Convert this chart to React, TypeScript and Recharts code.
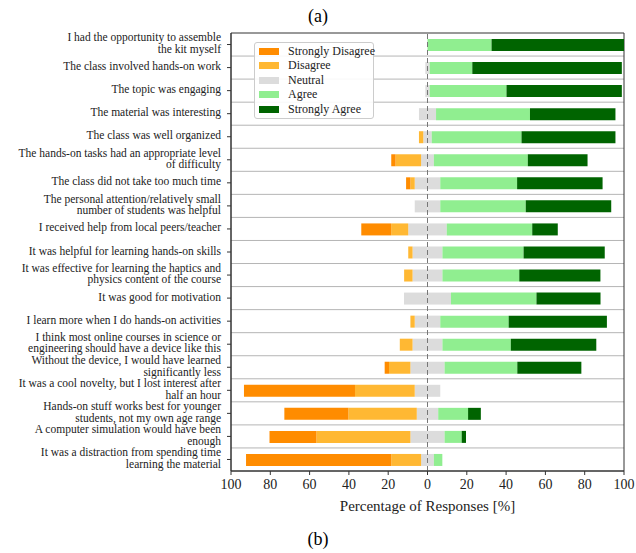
import {
  BarChart,
  Bar,
  XAxis,
  YAxis,
  CartesianGrid,
  ReferenceLine,
  ReferenceArea,
  Legend,
  Label,
} from 'recharts';

const SERIF = '"Liberation Serif", serif';

// Survey statements, top to bottom ("\n" = line break in the axis label)
const statements = [
  'I had the opportunity to assemble\nthe kit myself',
  'The class involved hands-on work',
  'The topic was engaging',
  'The material was interesting',
  'The class was well organized',
  'The hands-on tasks had an appropriate level\nof difficulty',
  'The class did not take too much time',
  'The personal attention/relatively small\nnumber of students was helpful',
  'I received help from local peers/teacher',
  'It was helpful for learning hands-on skills',
  'It was effective for learning the haptics and\nphysics content of the course',
  'It was good for motivation',
  'I learn more when I do hands-on activities',
  'I think most online courses in science or\nengineering should have a device like this',
  'Without the device, I would have learned\nsignificantly less',
  'It was a cool novelty, but I lost interest after\nhalf an hour',
  'Hands-on stuff works best for younger\nstudents, not my own age range',
  'A computer simulation would have been\nenough',
  'It was a distraction from spending time\nlearning the material',
];

// Percentage of responses per statement
const stronglyDisagree = [0, 0, 0, 0, 0, 2.2, 2.2, 0, 15.2, 0, 0, 0, 0, 0, 2.2, 56.5, 32.6, 23.9, 73.9];
const disagree = [0, 0, 0, 0, 2.2, 13.0, 2.2, 0, 8.7, 2.2, 4.3, 0, 2.2, 6.5, 10.9, 30.4, 34.8, 47.8, 15.2];
const neutral = [0, 2.2, 2.2, 8.7, 4.3, 6.5, 13.0, 13.0, 19.6, 15.2, 15.2, 23.9, 13.0, 15.2, 17.4, 13.0, 10.9, 17.4, 6.5];
const agree = [32.6, 21.7, 39.1, 47.8, 45.7, 47.8, 39.1, 43.5, 43.5, 41.3, 39.1, 43.5, 34.8, 34.8, 37.0, 0, 15.2, 8.7, 4.3];
const stronglyAgree = [67.4, 76.1, 58.7, 43.5, 47.8, 30.4, 43.5, 43.5, 13.0, 41.3, 41.3, 32.6, 50.0, 43.5, 32.6, 0, 6.5, 2.2, 0];

const xTicks = [-100, -80, -60, -40, -20, 0, 20, 40, 60, 80, 100];

const levels = [
  { name: 'Strongly Disagree', color: '#FF8C00' },
  { name: 'Disagree', color: '#FFB833' },
  { name: 'Neutral', color: '#DCDCDC' },
  { name: 'Agree', color: '#90EE90' },
  { name: 'Strongly Agree', color: '#006400' },
];

// Diverging layout: neutral is split around zero, disagreement goes negative
const data = statements.map((label, i) => ({
  label,
  neutralNeg: -neutral[i] / 2,
  disagree: -disagree[i],
  stronglyDisagree: -stronglyDisagree[i],
  neutralPos: neutral[i] / 2,
  agree: agree[i],
  stronglyAgree: stronglyAgree[i],
}));

const StatementTick = ({ x, y, payload }: any) => {
  const lines = String(payload.value).split('\n');
  const lineHeight = 11.5;
  const first = -1.5 - ((lines.length - 1) * lineHeight) / 2;
  return (
    <text
      x={x - 4}
      y={y}
      textAnchor="end"
      fontFamily={SERIF}
      fontSize={11.5}
      fill="#222"
    >
      {lines.map((line, i) => (
        <tspan key={i} x={x - 4} y={y + first + i * lineHeight} dominantBaseline="central">
          {line}
        </tspan>
      ))}
    </text>
  );
};

const LegendBox = () => (
  <div
    style={{
      background: 'rgba(255,255,255,0.9)',
      border: '1px solid #ccc',
      borderRadius: 3,
      padding: '1px 4px 1px 4px',
      fontFamily: SERIF,
      fontSize: 12,
      color: '#222',
      width: 110,
      whiteSpace: 'nowrap',
    }}
  >
    {levels.map((l) => (
      <div key={l.name} style={{ display: 'flex', alignItems: 'center', height: 14.5 }}>
        <span style={{ width: 20, height: 7, background: l.color, marginRight: 9, flex: 'none' }} />
        <span>{l.name}</span>
      </div>
    ))}
  </div>
);

const rowBoundaries = ({ offset }: any) => {
  const n = statements.length;
  const out: number[] = [];
  for (let i = 1; i < n; i++) out.push(offset.top + (offset.height * i) / n);
  return out;
};

export default function App() {
  return (
    <div style={{ position: 'absolute', left: 0, top: 0, width: 636, height: 553, background: '#fff' }}>
      <div
        style={{
          position: 'absolute',
          top: 6,
          width: 636,
          textAlign: 'center',
          fontFamily: SERIF,
          fontSize: 18,
        }}
      >
        (a)
      </div>
      <BarChart
        width={636}
        height={553}
        data={data}
        layout="vertical"
        stackOffset="sign"
        barSize={12}
        margin={{ top: 33, right: 12, bottom: 37, left: 0 }}
      >
        <CartesianGrid
          vertical={false}
          stroke="#b5b5b5"
          horizontalCoordinatesGenerator={rowBoundaries}
        />
        <ReferenceArea x1={-100} x2={100} fill="none" stroke="#333" strokeWidth={1} />
        <XAxis
          type="number"
          domain={[-100, 100]}
          ticks={xTicks}
          tickFormatter={(v: number) => String(Math.abs(v))}
          tick={{ fontFamily: SERIF, fontSize: 14, fill: '#222' }}
          tickSize={4}
          tickMargin={4}
          stroke="#333"
          height={45}
          allowDataOverflow
        >
          <Label
            value="Percentage of Responses [%]"
            position="insideBottom"
            offset={5}
            style={{ fontFamily: SERIF, fontSize: 15, fill: '#222' }}
          />
        </XAxis>
        <YAxis
          type="category"
          dataKey="label"
          width={231}
          interval={0}
          tick={<StatementTick />}
          tickSize={4}
          stroke="#333"
        />
        <ReferenceLine x={0} stroke="#777" strokeDasharray="5 3" />
        <Bar dataKey="neutralNeg" stackId="s" fill={levels[2].color} isAnimationActive={false} />
        <Bar dataKey="disagree" stackId="s" fill={levels[1].color} isAnimationActive={false} />
        <Bar dataKey="stronglyDisagree" stackId="s" fill={levels[0].color} isAnimationActive={false} />
        <Bar dataKey="neutralPos" stackId="s" fill={levels[2].color} isAnimationActive={false} />
        <Bar dataKey="agree" stackId="s" fill={levels[3].color} isAnimationActive={false} />
        <Bar dataKey="stronglyAgree" stackId="s" fill={levels[4].color} isAnimationActive={false} />
        <Legend
          layout="vertical"
          align="center"
          verticalAlign="middle"
          content={<LegendBox />}
          wrapperStyle={{ left: 254, top: 42, width: 'auto' }}
        />
      </BarChart>
      <div
        style={{
          position: 'absolute',
          top: 529,
          width: 636,
          textAlign: 'center',
          fontFamily: SERIF,
          fontSize: 18,
        }}
      >
        (b)
      </div>
    </div>
  );
}
